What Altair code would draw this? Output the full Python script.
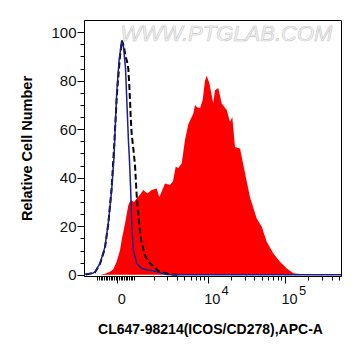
import math
import pandas as pd
import altair as alt

# ---- data (x in display units of the biexponential axis: 10^4 -> 4, 10^5 -> 5, 0 -> 2.83) ----
red_x = [2.607, 2.684, 2.736, 2.779, 2.823, 2.865, 2.891, 2.930, 2.973, 3.004, 3.047, 3.085,
         3.124, 3.167, 3.219, 3.276, 3.340, 3.374, 3.448, 3.512, 3.551, 3.586, 3.620, 3.664,
         3.706, 3.749, 3.814, 3.836, 3.862, 3.900, 3.935, 3.965, 3.987, 4.021, 4.072, 4.094,
         4.137, 4.181, 4.246, 4.288, 4.318, 4.353, 4.418, 4.483, 4.547, 4.634, 4.699, 4.763,
         4.849, 4.935, 5.022, 5.107, 5.194, 5.410, 5.621]
red_y = [0, 0.5, 1.3, 2.3, 5.5, 10, 15, 21, 28.7, 30.8, 30, 31.5,
         33, 34.9, 33.5, 34.9, 35.6, 32, 37.6, 37, 38.5, 44.5, 44, 46,
         55.5, 62, 66.5, 70, 69, 68.6, 72, 80, 82, 79, 70.6, 76,
         77, 70.6, 67.9, 63, 65, 52.7, 52, 41.8, 32, 23.2, 19.8, 13.6,
         8.8, 5.4, 2.6, 0.6, 0.3, 0.1, 0]

blue_x = [2.400, 2.503, 2.542, 2.607, 2.671, 2.714, 2.758, 2.788, 2.823, 2.853, 2.887, 2.911,
          2.937, 2.956, 2.975, 2.986, 3.004, 3.017, 3.038, 3.081, 3.146, 3.254, 3.318, 3.383,
          3.470, 3.577, 5.724]
blue_y = [0.2, 0.5, 1.2, 4.7, 11.5, 21.2, 35, 48.6, 75, 88, 96.4, 94,
          85, 70, 55, 48.6, 34.9, 21.2, 10.2, 4.7, 2.6, 1.9, 1.5, 0.8,
          0.1, 0, 0]

dash_x = [2.426, 2.542, 2.607, 2.671, 2.714, 2.758, 2.788, 2.827, 2.865, 2.891, 2.917, 2.937,
          2.956, 2.973, 2.986, 2.995, 3.004, 3.017, 3.038, 3.060, 3.081, 3.102, 3.124, 3.146,
          3.189, 3.232, 3.276, 3.318, 3.361, 3.426, 3.512, 3.642]
dash_y = [0.1, 1, 4.5, 11, 21, 36, 52, 75, 90, 96.5, 94, 90,
          88, 85, 78, 72, 65, 58, 52, 45, 33, 25, 18, 13,
          8, 5.5, 4, 3, 1.5, 0.8, 0.2, 0]

major_ticks = [2.83, 4, 5]
major_labels = ["0", "10", "10"]
exponents = ["", "4", "5"]
y_ticks = list(range(0, 101, 5))

X_DOMAIN = [2.400, 5.724]
Y_DOMAIN = [-0.5, 105]

dense = [round(2.572 + 0.0216 * i, 4) for i in range(23)]
dense = [v for v in dense if abs(v - 2.83) > 0.008]
logminor = [round(n + math.log10(k), 4) for n in (3, 4, 5) for k in range(2, 10)]
logminor = [v for v in logminor if 3.1 < v < X_DOMAIN[1]]
x_tick_values = sorted(major_ticks + dense + logminor)

FONT = "Liberation Sans"

red_df = pd.DataFrame({"x": red_x, "y": red_y})
blue_df = pd.DataFrame({"x": blue_x, "y": blue_y})
dash_df = pd.DataFrame({"x": dash_x, "y": dash_y})
exp_df = pd.DataFrame({"x": major_ticks, "t": exponents})
wm_df = pd.DataFrame({"t": ["WWW.PTGLAB.COM"]})

major_test = " || ".join(f"datum.value == {v}" for v in major_ticks)
label_expr = " : ".join(
    f"datum.value == {v} ? '{l}'" for v, l in zip(major_ticks, major_labels)
) + " : ''"

x_axis = alt.Axis(
    values=x_tick_values,
    labelExpr=label_expr,
    labelOverlap=False,
    labelFlush=False,
    labelOffset=4,
    labelFontSize=14.5,
    labelFont=FONT,
    labelColor="#111111",
    labelPadding=9,
    tickSize={"condition": {"test": major_test, "value": 7}, "value": 4},
    tickColor="black",
    domainColor="black",
    grid=False,
    title="CL647-98214(ICOS/CD278),APC-A",
    titleFont=FONT,
    titleFontSize=14,
    titleFontWeight="bold",
    titleColor="black",
    titleX=126,
    titleY=53,
    titleAlign="center",
    titleBaseline="middle",
)

y_axis = alt.Axis(
    values=y_ticks,
    labelExpr="datum.value % 20 == 0 ? datum.label : ''",
    labelOverlap=False,
    labelFlush=False,
    labelFontSize=15,
    labelFont=FONT,
    labelColor="#111111",
    labelPadding=1,
    tickSize={"condition": {"test": "datum.value % 20 == 0", "value": 7}, "value": 4},
    tickColor="black",
    domainColor="black",
    grid=False,
    title="Relative Cell Number",
    titleFont=FONT,
    titleFontSize=14.5,
    titleFontWeight="bold",
    titleColor="black",
    titleAngle=270,
    titleX=-57,
    titleY=128,
    titleAlign="center",
    titleBaseline="middle",
)

X = alt.X("x:Q", scale=alt.Scale(domain=X_DOMAIN, nice=False, zero=False), axis=x_axis)
Y = alt.Y("y:Q", scale=alt.Scale(domain=Y_DOMAIN, nice=False, zero=False), axis=y_axis)

watermark = alt.Chart(wm_df).mark_text(
    font=FONT, fontSize=22, fontStyle="italic", align="left", baseline="alphabetic",
    fill="#f4f4f4", stroke="#c6c6c6", strokeWidth=0.6,
).encode(x=alt.value(36.5), y=alt.value(21), text="t:N")

area = alt.Chart(red_df).mark_area(color="#ff0000", clip=True).encode(x=X, y=Y)

dashed = alt.Chart(dash_df).mark_line(
    color="black", strokeWidth=2, strokeDash=[6, 3], clip=True
).encode(x=X, y=Y)

blue = alt.Chart(blue_df).mark_line(color="#1e1e8c", strokeWidth=1.5, clip=True).encode(x=X, y=Y)

expo = alt.Chart(exp_df).mark_text(
    font=FONT, fontSize=13, color="#111111", align="center", baseline="middle", dx=17.5
).encode(x=X, y=alt.value(270.5), text="t:N")

chart = alt.layer(watermark, area, dashed, blue, expo).properties(
    width=257,
    height=256,
    padding={"left": 84, "top": 20, "right": 20, "bottom": 80},
    autosize=alt.AutoSizeParams(type="none"),
    background="white",
).configure_view(stroke="black", strokeWidth=1)

chart.save("out.html", embed_options={"renderer": "svg", "actions": False})
